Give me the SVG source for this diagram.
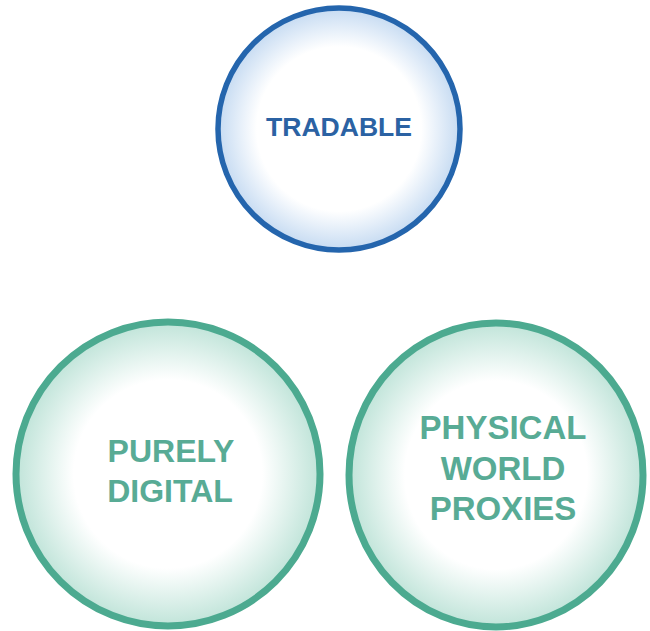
<svg xmlns="http://www.w3.org/2000/svg" width="650" height="631" viewBox="0 0 650 631">
  <defs>
    <radialGradient id="glowBlue" cx="50%" cy="50%" r="50%">
      <stop offset="0" stop-color="#ffffff"/>
      <stop offset="0.68" stop-color="#ffffff"/>
      <stop offset="1" stop-color="#c6dbf2"/>
    </radialGradient>
    <radialGradient id="glowTeal" cx="50%" cy="50%" r="50%">
      <stop offset="0" stop-color="#ffffff"/>
      <stop offset="0.62" stop-color="#ffffff"/>
      <stop offset="1" stop-color="#c0e4d9"/>
    </radialGradient>
    <style>
      .ring-blue { fill: url(#glowBlue); stroke: #2465ad; stroke-width: 5.5; }
      .ring-teal { fill: url(#glowTeal); stroke: #4caa90; stroke-width: 7; }
      .label { font-family: "Liberation Sans", Arial, sans-serif; font-weight: bold; text-anchor: middle; }
      .label-blue { fill: #2b62a3; font-size: 26px; }
      .label-teal { fill: #58ab95; font-size: 32px; }
      .label-teal-lg { fill: #58ab95; font-size: 33px; }
    </style>
  </defs>
  <rect width="650" height="631" fill="#ffffff"/>

  <g id="connectors"></g>

  <g id="tradable">
    <circle class="ring-blue" cx="339" cy="129" r="121"/>
    <text class="label label-blue" x="339" y="135.5" textLength="146" lengthAdjust="spacingAndGlyphs">TRADABLE</text>
  </g>

  <g id="purely-digital">
    <circle class="ring-teal" cx="168" cy="474" r="152"/>
    <text class="label label-teal" x="171" y="461.5">PURELY</text>
    <text class="label label-teal" x="170" y="501.5">DIGITAL</text>
  </g>

  <g id="physical-world-proxies">
    <ellipse class="ring-teal" cx="496" cy="475" rx="147" ry="152"/>
    <text class="label label-teal-lg" x="503" y="439">PHYSICAL</text>
    <text class="label label-teal-lg" x="503" y="480">WORLD</text>
    <text class="label label-teal-lg" x="503" y="520">PROXIES</text>
  </g>
</svg>
